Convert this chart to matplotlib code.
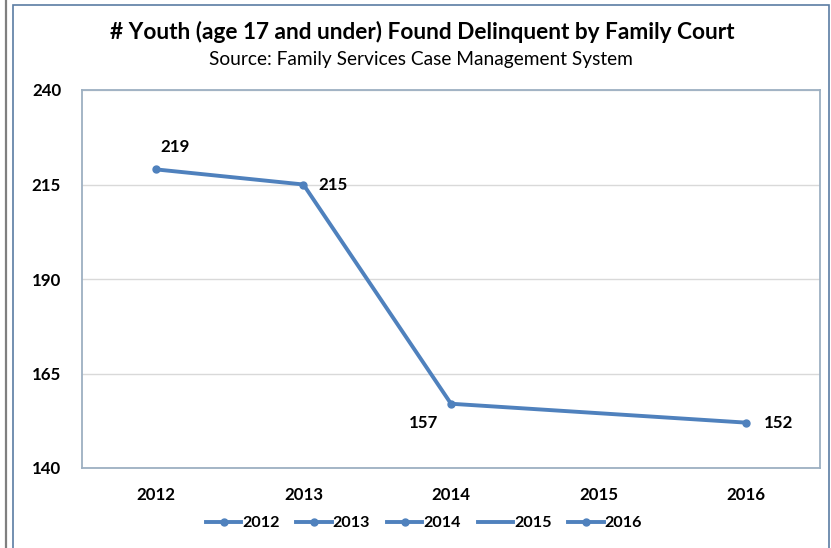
import matplotlib
matplotlib.use("Agg")
import matplotlib.pyplot as plt
from matplotlib.lines import Line2D
from matplotlib.patches import Rectangle
import numpy as np

plt.rcParams['font.family'] = ['Lato', 'DejaVu Sans']

# Data
years = ["2012", "2013", "2014", "2015", "2016"]
youth_found_delinquent = [219, 215, 157, np.nan, 152]
legend_years = ["2012", "2013", "2014", "2015", "2016"]
legend_has_marker = [True, True, True, False, True]
y_ticks = [140, 165, 190, 215, 240]

title = "# Youth (age 17 and under) Found Delinquent by Family Court"
subtitle = "Source: Family Services Case Management System"

LINE_COLOR = "#4F81BD"

fig = plt.figure(figsize=(8.31, 5.48), dpi=100)
fig.patch.set_facecolor("white")

# Outer frame lines
fig.add_artist(Line2D([6 / 831, 6 / 831], [0, 1], transform=fig.transFigure,
                      color="#7F7F7F", lw=1.6))
fig.add_artist(Rectangle((13 / 831, -0.05), (829 - 13) / 831, 1.05 - 5 / 548,
                         transform=fig.transFigure, fill=False,
                         edgecolor="#5B7DA3", lw=1.2))

ax = fig.add_axes([82 / 831, (548 - 468) / 548, 738 / 831, 378 / 548])

x = np.arange(len(years))
vals = np.array(youth_found_delinquent, dtype=float)
mask = ~np.isnan(vals)
ax.plot(x[mask], vals[mask], color=LINE_COLOR, lw=2.8, marker="o",
        markersize=5, solid_joinstyle="round", zorder=3)

# Data labels (offsets in pixels)
label_offsets = {0: (19, 22), 1: (30, 0), 2: (-27, -19), 4: (32, 0)}
for i, v in enumerate(youth_found_delinquent):
    if np.isnan(v):
        continue
    dx, dy = label_offsets[i]
    ax.annotate(f"{int(v)}", (x[i], v), xytext=(dx * 0.72, dy * 0.72),
                textcoords="offset points", ha="center", va="center",
                fontsize=12.2, fontweight="bold", color="#000000")

ax.set_xlim(-0.5, len(years) - 0.5)
ax.set_ylim(140, 240)
ax.set_yticks(y_ticks)
ax.set_xticks(x)
ax.set_xticklabels(years)
ax.tick_params(axis="both", length=0, labelsize=12.2, colors="#000000")
ax.tick_params(axis="y", pad=15)
ax.tick_params(axis="x", pad=14)
for lab in ax.get_xticklabels() + ax.get_yticklabels():
    lab.set_fontweight("bold")

ax.grid(axis="y", color="#D9D9D9", lw=1)
ax.set_axisbelow(True)
for s in ax.spines.values():
    s.set_color("#9DB0C2")
    s.set_linewidth(1.3)

fig.text(422 / 831, 1 - 32 / 548, title, ha="center", va="center",
         fontsize=16.3, fontweight="bold", color="#000000")
fig.text(421 / 831, 1 - 59.5 / 548, subtitle, ha="center", va="center",
         fontsize=13.8, color="#000000")

handles = []
for has_marker in legend_has_marker:
    handles.append(Line2D([], [], color=LINE_COLOR, lw=2.8,
                          marker="o" if has_marker else None, markersize=5))
leg = fig.legend(handles, legend_years, loc="center",
                 bbox_to_anchor=(424 / 831, 1 - 523 / 548), ncol=5,
                 frameon=False, handlelength=2.2, handletextpad=0.05,
                 columnspacing=1.05,
                 prop={"weight": "bold", "size": 11.6})

fig.savefig("out.png", dpi=100, facecolor="white")
